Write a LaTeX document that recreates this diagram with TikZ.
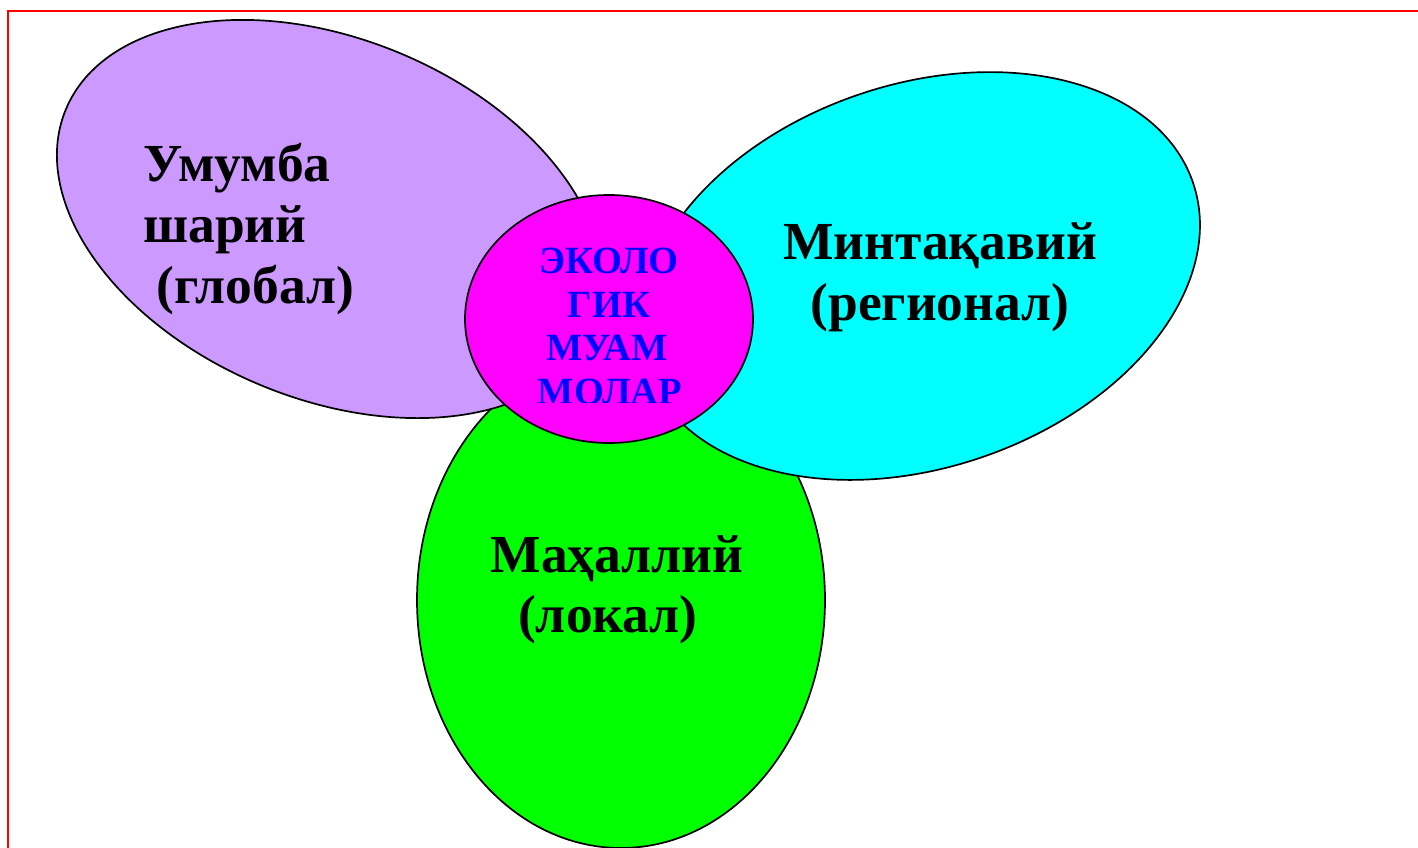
\documentclass[tikz,border=0pt]{standalone}
\usepackage{fontspec}
\setmainfont{Liberation Serif}
\usetikzlibrary{shapes.geometric}

\definecolor{lilac}{HTML}{CC99FF}
\definecolor{aqua}{HTML}{00FFFF}
\definecolor{lime}{HTML}{00FF00}
\definecolor{fuchsia}{HTML}{FF00FF}
\definecolor{textblue}{HTML}{0000FF}
\definecolor{framered}{HTML}{FF0000}

\tikzset{
  blob/.style={ellipse, draw=black, line width=1.7pt, inner sep=0pt},
  bigtext/.style={font=\fontsize{53.5}{61}\selectfont\bfseries, text=black, inner sep=0pt},
  coretext/.style={font=\fontsize{38.5}{43.5}\selectfont\bfseries, text=textblue, inner sep=0pt, anchor=base},
}

\begin{document}
\begin{tikzpicture}[x=1pt, y=-1pt]
  \useasboundingbox (0,0) rectangle (1418,847);
  \clip (0,0) rectangle (1418,847);

  % page frame
  \draw[framered, line width=1.8pt] (8,900) -- (8,11) -- (1500,11);

  % local
  \node[blob, fill=lime, minimum width=408pt, minimum height=496pt] (local) at (621,600) {};
  % global
  \node[blob, fill=lilac, minimum width=572pt, minimum height=360pt, rotate=-22.5] (global) at (330,219) {};
  % regional
  \node[blob, fill=aqua, minimum width=577pt, minimum height=383pt, rotate=18.9] (regional) at (920,276) {};
  % core
  \node[blob, fill=fuchsia, minimum width=288pt, minimum height=248pt] (core) at (609,319) {};

  % labels
  \node[bigtext, anchor=base west] (g1) at (143,181) {Умумба};
  \node[bigtext, anchor=base west] (g2) at (143,242) {шарий};
  \node[bigtext, anchor=base west] (g3) at (156,303) {(глобал)};

  \node[bigtext, anchor=base] (r1) at (940,259) {Минтақавий};
  \node[bigtext, anchor=base] (r2) at (940,320) {(регионал)};

  \node[bigtext, anchor=base] (l1) at (617,572) {Маҳаллий};
  \node[bigtext, anchor=base] (l2) at (608,632) {(локал)};

  % core text, cut off at the bottom of its text box
  \begin{scope}
    \clip (460,230) rectangle (760,402);
    \node[coretext] (c1) at (609,273) {ЭКОЛО};
    \node[coretext] (c2) at (609,317) {ГИК};
    \node[coretext] (c3) at (607,360) {МУАМ};
    \node[coretext] (c4) at (610,404) {МОЛАР};
  \end{scope}
\end{tikzpicture}
\end{document}
